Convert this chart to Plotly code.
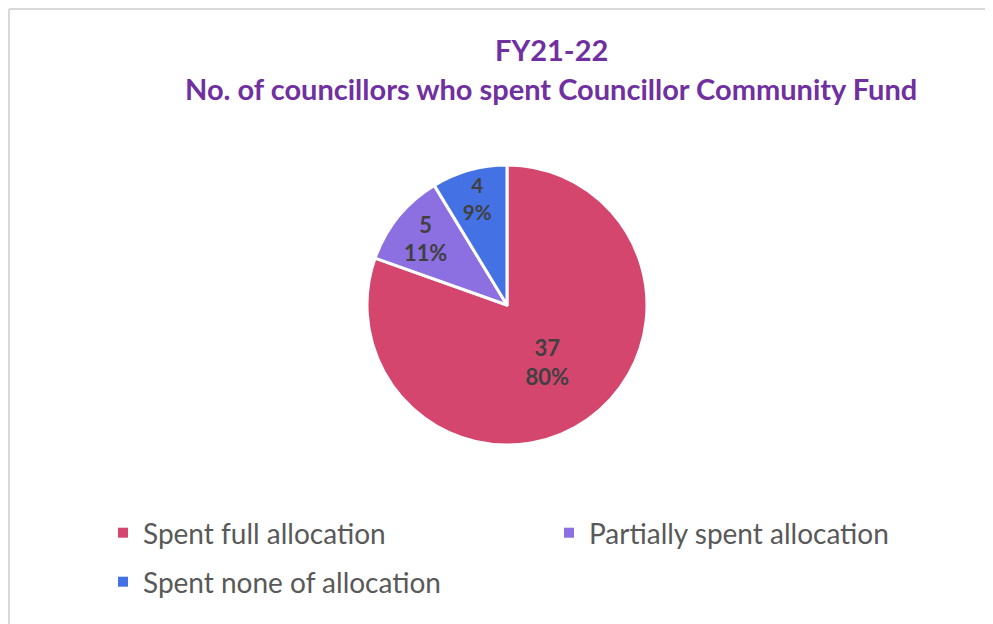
import plotly.graph_objects as go

categories = ["Spent full allocation", "Partially spent allocation", "Spent none of allocation"]
values = [37, 5, 4]
colors = ["#D5466F", "#8C6FE0", "#4472E4"]
title_lines = ["FY21-22", "No. of councillors who spent Councillor Community Fund"]

OFF = 8  # page body margin
W, H = 993 - OFF, 624 - OFF
FONT = "Lato"


def px(x):
    return (x - OFF) / W


def py(y):
    return 1 - (y - OFF) / H


fig = go.Figure()
fig.add_trace(go.Pie(
    labels=categories, values=values,
    marker=dict(colors=colors, line=dict(color="white", width=3)),
    sort=False, direction="clockwise", rotation=0,
    texttemplate="%{value}<br>%{percent:.0%}",
    textposition="inside", insidetextorientation="horizontal",
    textfont=dict(family=FONT, size=22, color="#404040", weight="bold"),
    showlegend=False, hoverinfo="label+value+percent",
    domain=dict(x=[px(367), px(647)], y=[py(445), py(165)]),
))

# legend entries: each entry in its own legend box, laid out as in the original
legend_names = ["legend", "legend3", "legend2"]
legend_pos = [(103, 533), (549, 533), (103, 582)]
for cat, col, lg in zip(categories, colors, legend_names):
    fig.add_trace(go.Scatter(
        x=[None], y=[None], mode="markers", name=cat,
        marker=dict(symbol="square", size=10, color=col),
        legend=lg,
    ))

legend_common = dict(
    orientation="h", xanchor="left", yanchor="middle",
    font=dict(family=FONT, size=28, color="#595959"),
    bgcolor="rgba(0,0,0,0)",
    itemclick=False, itemdoubleclick=False,
)

title_font = dict(family=FONT, size=29, color="#7030A0", weight="bold")

layout_legends = {
    lg: dict(x=px(x), y=py(y), **legend_common)
    for lg, (x, y) in zip(legend_names, legend_pos)
}

fig.update_layout(
    width=W, height=H,
    margin=dict(l=0, r=0, t=0, b=0),
    paper_bgcolor="white", plot_bgcolor="white",
    xaxis=dict(visible=False), yaxis=dict(visible=False),
    annotations=[
        dict(text=title_lines[0], x=px(551), y=py(50), xref="paper", yref="paper",
             showarrow=False, xanchor="center", yanchor="middle", font=title_font),
        dict(text=title_lines[1], x=px(551), y=py(88), xref="paper", yref="paper",
             showarrow=False, xanchor="center", yanchor="middle", font=title_font),
    ],
    shapes=[
        dict(type="line", xref="paper", yref="paper", x0=1 / W, x1=1, y0=1 - 1 / H, y1=1 - 1 / H,
             line=dict(color="#D9D9D9", width=2)),
        dict(type="line", xref="paper", yref="paper", x0=1 / W, x1=1 / W, y0=0, y1=1 - 1 / H,
             line=dict(color="#D9D9D9", width=2)),
    ],
    **layout_legends,
)

fig.write_html("out.html")
